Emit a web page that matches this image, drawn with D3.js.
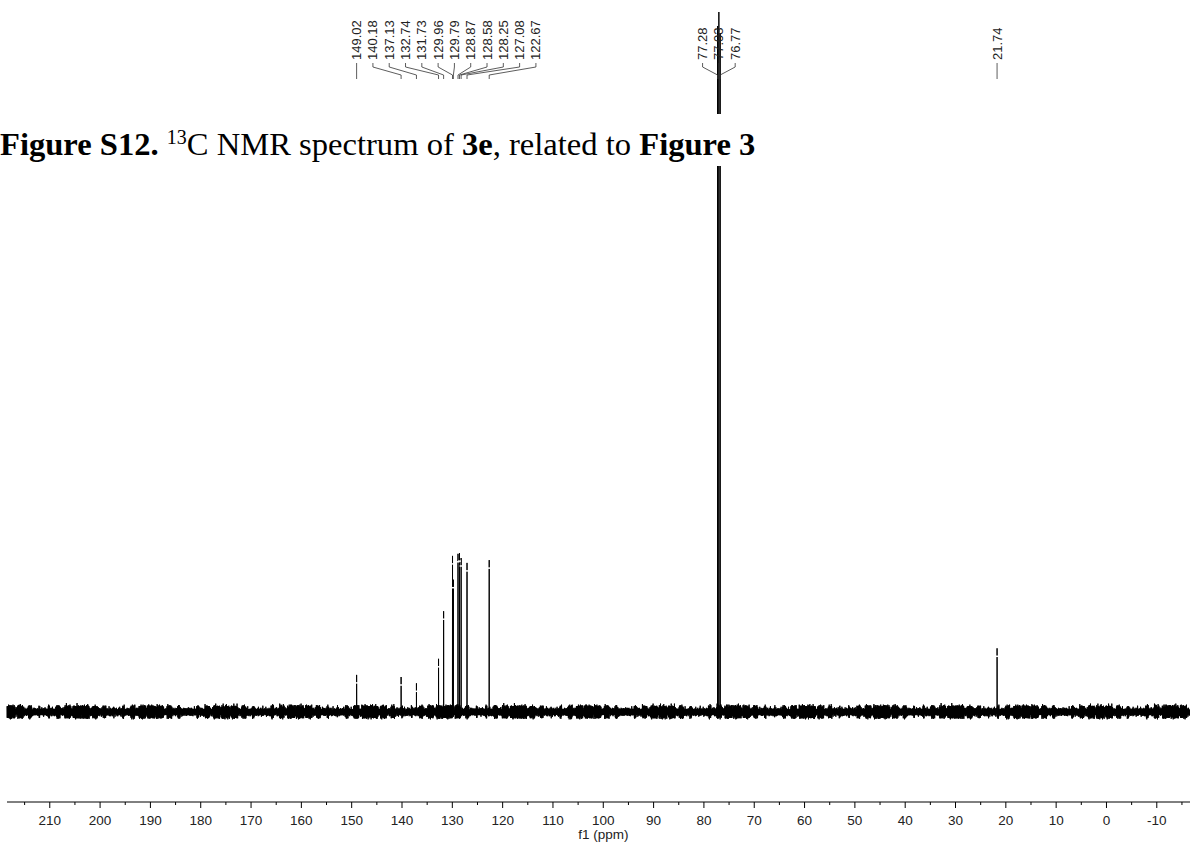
<!DOCTYPE html>
<html>
<head>
<meta charset="utf-8">
<script src="https://cdn.jsdelivr.net/npm/d3@7"></script>
<style>
  body { margin: 0; background: #fff; }
  svg { display: block; }
</style>
</head>
<body>
<div id="chart"></div>
<script>
// Peak list (ppm) and relative intensities
const peakPpm = [149.02, 140.18, 137.13, 132.74, 131.73, 129.96, 129.79, 128.87, 128.58, 128.25, 127.08, 122.67, 77.28, 77.03, 76.77, 21.74];
const peakHeight = [5.3, 5.0, 4.1, 7.6, 14.4, 22.3, 18.9, 22.6, 22.7, 22.0, 21.3, 21.7, 98, 100, 97, 9.1];
const solventPpm = [77.28, 77.03, 76.77];

// Label clusters (indexes into peakPpm)
const clusters = [
  [0, 1, 2, 3, 4, 5, 6, 7, 8, 9, 10, 11],
  [12, 13, 14],
  [15]
];

// Axis ticks
const majorTicks = [210, 200, 190, 180, 170, 160, 150, 140, 130, 120, 110, 100, 90, 80, 70, 60, 50, 40, 30, 20, 10, 0, -10];
const minorTicks = [215, 205, 195, 185, 175, 165, 155, 145, 135, 125, 115, 105, 95, 85, 75, 65, 55, 45, 35, 25, 15, 5, -5, -15];

// Baseline noise pattern (hand typed, relative units)
const noiseA = [0.8, -0.9, 0.7, -0.8, 1.0, -0.7, 0.6, -1.0, 0.9, -0.6, 0.8, -0.9, 0.7, -0.8, 1.1, -0.7, 0.9, -1.0, 0.6, -0.8,
                0.8, -0.9, 0.7, -1.0, 0.9, -0.7, 0.8, -0.8, 0.6, -0.9, 1.2, -0.8, 0.7, -0.9, 0.8, -0.7, 0.9, -1.0, 0.7, -0.8,
                0.9, -0.6, 0.8, -0.9, 0.7, -1.0, 0.8, -0.7, 1.0, -0.9, 0.6, -0.8, 0.9];
const noiseB = [0.3, -0.2, 0.4, -0.3, 0.1, -0.4, 0.3, -0.1, 0.5, -0.2, 0.2, -0.3, 0.4, -0.4, 0.2, -0.1, 0.3, -0.4, 0.1,
                -0.2, 0.5, -0.1, 0.2, -0.3, 0.3, -0.3, 0.4, -0.2, 0.3, -0.1, 0.2, -0.4, 0.3, -0.2, 0.1, -0.3, 0.4, -0.2, 0.2,
                -0.3, 0.1];

const width = 1190;
const height = 844;

const x = d3.scaleLinear().domain([218.5, -16.6]).range([7, 1190]);
const y = d3.scaleLinear().domain([0, 100]).range([712, 12]);

const svg = d3.select("#chart").append("svg")
    .attr("width", width)
    .attr("height", height)
    .attr("viewBox", [0, 0, width, height]);

svg.append("rect").attr("width", width).attr("height", height).attr("fill", "#fff");

// Build spectrum points: noise grid plus narrow peaks
const pts = [];
let k = 0;
for (let p = 218.5; p >= -16.6; p -= 0.04) {
  pts.push([p, 0.75 * (noiseA[k % noiseA.length] + noiseB[k % noiseB.length])]);
  k++;
}
peakPpm.forEach((p, i) => {
  pts.push([p + 0.02, 0]);
  pts.push([p, peakHeight[i]]);
  pts.push([p - 0.02, 0]);
});
pts.sort((a, b) => b[0] - a[0]);

const line = d3.line().x(d => x(d[0])).y(d => y(d[1]));

svg.append("path")
    .datum(pts)
    .attr("fill", "none")
    .attr("stroke", "#000")
    .attr("stroke-width", 1)
    .attr("d", line);

// small white gaps below the peak tops (peak-pick marks)
svg.append("g")
  .selectAll("line")
  .data(peakPpm.filter(p => !solventPpm.includes(p)))
  .join("line")
    .attr("x1", d => x(d) - 1.5)
    .attr("x2", d => x(d) + 1.5)
    .attr("y1", d => y(peakHeight[peakPpm.indexOf(d)]) + 8)
    .attr("y2", d => y(peakHeight[peakPpm.indexOf(d)]) + 8)
    .attr("stroke", "#fff")
    .attr("stroke-width", 1.5);

// Caption sits on a white strip over the spectrum
svg.append("rect")
    .attr("x", 0).attr("y", 114)
    .attr("width", width).attr("height", 52)
    .attr("fill", "#fff");
const cap = svg.append("text")
    .attr("x", 0)
    .attr("y", 155)
    .style("font-family", "'Liberation Serif', 'Times New Roman', serif")
    .style("font-size", "32.6px")
    .attr("fill", "#000");
cap.append("tspan").style("font-weight", "bold").text("Figure S12.");
cap.append("tspan").text(" ");
cap.append("tspan").attr("dy", -11).style("font-size", "20px").text("13");
cap.append("tspan").attr("dy", 11).text("C NMR spectrum of ");
cap.append("tspan").style("font-weight", "bold").text("3e");
cap.append("tspan").text(", related to ");
cap.append("tspan").style("font-weight", "bold").text("Figure 3");

// Peak labels with connectors
const labelSpacing = 16.3;
const labelBase = 60;
const labels = svg.append("g")
    .style("font-family", "'Liberation Sans', Arial, sans-serif")
    .style("font-size", "13px");

clusters.forEach((idx, ci) => {
  const px = idx.map(i => x(peakPpm[i]));
  let x0;
  if (ci === 1) {
    const mean = d3.mean(px);
    x0 = mean - (idx.length - 1) / 2 * labelSpacing;
  } else {
    x0 = px[0];
  }
  idx.forEach((i, j) => {
    const lx = x0 + j * labelSpacing;
    const pxi = x(peakPpm[i]);
    labels.append("text")
        .attr("transform", `translate(${lx},${labelBase}) rotate(-90)`)
        .attr("dy", "0.35em")
        .attr("fill", "#222")
        .text(peakPpm[i].toFixed(2));
    labels.append("path")
        .attr("fill", "none")
        .attr("stroke", "#333")
        .attr("stroke-width", 0.8)
        .attr("d", `M${lx},${labelBase + 3}V${labelBase + 7}L${pxi},${labelBase + 15}V${labelBase + 19}`);
  });
});

// Axis
const axisY = 802;
const axis = svg.append("g");
axis.append("line")
    .attr("x1", 7).attr("x2", 1190)
    .attr("y1", axisY).attr("y2", axisY)
    .attr("stroke", "#000").attr("stroke-width", 1);
axis.selectAll(".major")
  .data(majorTicks)
  .join("line")
    .attr("class", "major")
    .attr("x1", d => x(d)).attr("x2", d => x(d))
    .attr("y1", axisY).attr("y2", axisY + 6)
    .attr("stroke", "#000");
axis.selectAll(".minor")
  .data(minorTicks.filter(d => x(d) > 7 && x(d) < 1190))
  .join("line")
    .attr("class", "minor")
    .attr("x1", d => x(d)).attr("x2", d => x(d))
    .attr("y1", axisY).attr("y2", axisY + 3)
    .attr("stroke", "#000");
axis.selectAll(".tl")
  .data(majorTicks)
  .join("text")
    .attr("class", "tl")
    .attr("x", d => x(d))
    .attr("y", 825)
    .attr("text-anchor", "middle")
    .style("font-family", "'Liberation Sans', Arial, sans-serif")
    .style("font-size", "13.5px")
    .attr("fill", "#222")
    .text(d => d);
svg.append("text")
    .attr("x", x(100))
    .attr("y", 839)
    .attr("text-anchor", "middle")
    .style("font-family", "'Liberation Sans', Arial, sans-serif")
    .style("font-size", "13.5px")
    .attr("fill", "#222")
    .text("f1 (ppm)");
</script>
</body>
</html>
